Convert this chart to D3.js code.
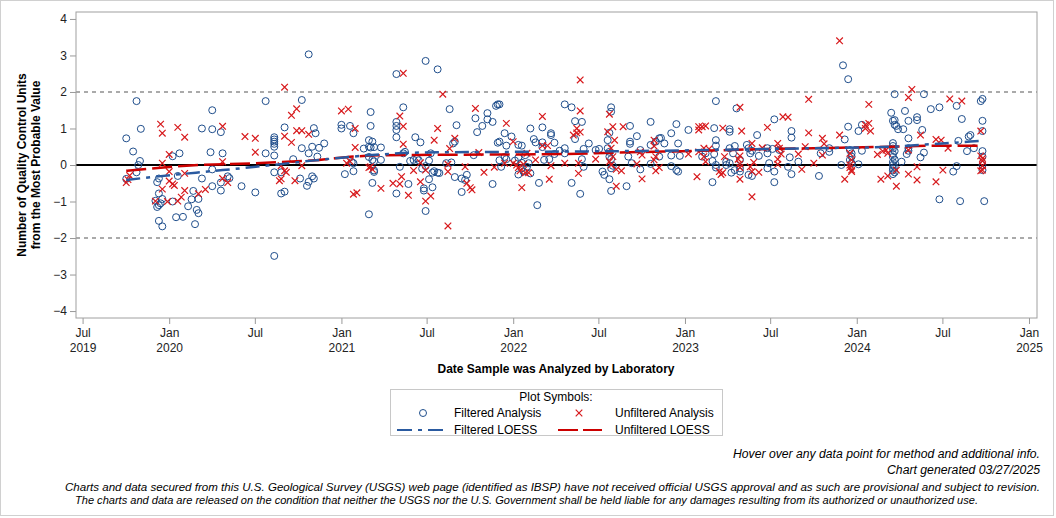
<!DOCTYPE html>
<html>
<head>
<meta charset="utf-8">
<script src="https://cdn.jsdelivr.net/npm/d3@7"></script>
<style>
  body { margin: 0; background: #fff; }
  svg { display: block; font-family: "Liberation Sans", Arial, sans-serif; }
</style>
</head>
<body>
<svg id="chart" width="1056" height="518"></svg>
<script>
// filtered analysis points: [decimal year, QC units from MPV]
const filteredPoints = [
  [2020.81,3.03],[2019.81,1.75],[2019.75,0.73],[2019.835,0.99],[2019.79,0.37],[2019.83,0.11],[2019.82,0.0],
  [2019.81,-0.2],[2019.75,-0.38],[2019.93,-0.47],[2019.94,-0.37],[2019.94,-0.78],[2019.96,-0.93],[2019.92,-0.98],
  [2019.94,-1.1],[2019.93,-1.15],[2019.95,-1.05],[2019.94,-1.53],[2019.96,-1.68],[2020.02,0.24],[2020.06,0.32],
  [2020.05,-0.3],[2020.02,-1.0],[2020.04,-1.43],[2020.08,-1.42],[2020.11,-1.13],[2020.14,-0.71],[2020.13,-0.94],
  [2020.17,-0.93],[2020.16,-1.23],[2020.17,-1.32],[2020.15,-1.62],[2020.19,1.0],[2020.25,1.5],[2020.25,0.98],
  [2020.30,0.9],[2020.24,0.35],[2020.31,0.32],[2020.25,-0.12],[2020.19,-0.37],[2020.25,-0.58],[2020.30,-0.7],
  [2020.30,-0.48],[2020.34,-0.31],[2020.35,-0.36],[2020.42,-0.58],[2020.50,-0.75],[2020.56,1.75],[2020.61,-2.49],
  [2020.61,0.76],[2020.61,0.7],[2020.61,0.64],[2020.61,0.58],[2020.61,0.5],[2020.56,0.32],[2020.61,0.26],
  [2020.61,-0.2],[2020.65,-0.2],[2020.65,-0.78],[2020.67,-0.73],[2020.67,1.03],[2020.72,0.16],[2020.77,0.46],
  [2020.77,1.78],[2020.76,-0.37],[2020.81,0.32],[2020.83,0.5],[2020.84,1.01],[2020.85,0.87],[2020.87,0.47],
  [2020.86,0.23],[2020.90,0.59],[2020.83,-0.31],[2020.84,-0.37],[2020.81,-0.46],[2020.80,-0.57],
  [2021.49,2.85],[2021.56,2.62],[2021.32,2.49],[2021.0,1.1],[2021.0,1.0],[2021.05,1.07],[2021.07,0.87],
  [2021.17,1.45],[2021.17,1.07],[2021.16,0.68],[2021.18,0.64],[2021.13,0.45],[2021.16,0.5],[2021.17,0.48],
  [2021.19,0.49],[2021.23,0.48],[2021.16,0.22],[2021.18,0.14],[2021.19,0.1],[2021.23,0.14],[2021.02,-0.25],
  [2021.07,-0.17],[2021.07,0.05],[2021.06,0.08],[2021.19,-0.19],[2021.19,-0.15],[2021.18,-0.49],[2021.16,-1.35],
  [2021.32,0.76],[2021.32,0.96],[2021.32,1.07],[2021.32,1.18],[2021.36,1.58],[2021.34,-0.05],[2021.36,0.32],
  [2021.37,0.36],[2021.32,-0.78],[2021.39,-0.52],[2021.43,0.76],[2021.46,0.62],[2021.40,0.11],[2021.42,0.14],
  [2021.44,0.18],[2021.45,0.13],[2021.47,-0.1],[2021.49,-0.03],[2021.51,0.12],[2021.52,0.32],[2021.51,-0.39],
  [2021.48,-0.64],[2021.48,-0.7],[2021.53,-0.61],[2021.49,-1.26],[2021.53,-0.21],[2021.54,-0.17],[2021.56,-0.21],
  [2021.57,-0.22],[2021.63,1.53],[2021.67,1.09],[2021.65,0.59],[2021.66,0.64],[2021.64,0.07],[2021.61,0.05],
  [2021.66,-0.33],[2021.70,-0.74],[2021.70,-0.37],[2021.73,-0.27],[2021.72,-0.41],[2021.77,0.27],[2021.78,1.28],
  [2021.79,0.9],[2021.82,1.07],[2021.85,1.42],[2021.85,1.25],[2021.88,1.18],[2021.90,1.62],[2021.91,1.66],
  [2021.92,1.66],[2021.88,-0.52],[2021.92,0.13],[2021.93,-0.05],[2021.95,0.22],[2021.96,0.16],[2021.91,0.61],
  [2021.92,0.64],[2021.95,0.87],[2021.96,0.53],[2021.99,0.78],[2022.01,0.12],[2022.03,0.2],[2022.05,0.06],
  [2022.03,-0.26],[2022.05,-0.09],[2022.06,-0.18],[2022.07,0.27],[2022.08,-0.05],[2022.09,0.05],[2022.03,0.55],
  [2022.05,0.53],[2022.10,1.0],[2022.10,-0.23],[2022.12,0.71],[2022.13,0.62],[2022.15,-0.49],[2022.14,-1.1],
  [2022.17,1.03],[2022.17,0.62],[2022.17,0.49],[2022.18,0.14],[2022.21,0.16],[2022.24,0.3],[2022.27,0.39],
  [2022.22,0.87],[2022.22,0.82],[2022.24,0.61],[2022.30,1.66],[2022.30,0.46],
  [2022.34,1.58],[2022.36,1.2],[2022.40,1.18],[2022.36,0.71],[2022.30,0.32],[2022.41,0.44],[2022.40,0.16],
  [2022.41,-0.05],[2022.44,0.59],[2022.48,0.41],[2022.50,0.44],[2022.34,-0.49],[2022.39,-0.79],[2022.57,1.58],
  [2022.57,1.46],[2022.56,0.88],[2022.55,0.68],[2022.56,0.36],[2022.56,0.23],[2022.57,0.16],[2022.55,0.46],
  [2022.52,-0.18],[2022.53,-0.27],[2022.56,-0.39],[2022.57,-0.09],[2022.58,-0.02],[2022.57,-0.71],[2022.66,-0.58],
  [2022.68,1.07],[2022.68,0.64],[2022.68,0.58],[2022.72,0.79],[2022.67,0.23],[2022.69,0.05],[2022.74,0.41],
  [2022.74,-0.12],[2022.80,1.18],[2022.80,0.55],[2022.80,0.03],[2022.83,0.64],[2022.85,0.73],[2022.86,0.74],
  [2022.88,0.59],[2022.85,0.23],[2022.92,0.87],[2022.95,1.12],[2022.96,0.59],[2022.92,0.26],[2022.97,0.25],
  [2022.92,-0.03],[2022.95,-0.14],[2022.96,-0.18],[2023.02,0.96],[2023.17,1.01],[2023.18,1.75],[2023.18,0.68],
  [2023.18,0.53],[2023.10,0.23],[2023.12,0.32],[2023.17,0.3],[2023.16,0.11],[2023.18,-0.07],[2023.18,0.0],
  [2023.16,-0.47],[2023.24,0.09],[2023.24,0.0],[2023.26,0.05],[2023.26,0.98],[2023.26,0.91],[2023.26,0.46],
  [2023.28,0.32],[2023.29,0.52],[2023.27,-0.21],[2023.29,-0.14],[2023.30,1.55],[2023.32,0.14],[2023.32,-0.09],
  [2023.32,-0.18],[2023.36,0.55],[2023.37,0.46],[2023.38,0.32],[2023.39,0.39],[2023.37,-0.27],[2023.39,-0.3],
  [2023.42,0.82],[2023.43,0.25],[2023.48,0.46],[2023.48,0.32],[2023.48,-0.09],[2023.49,0.05],[2023.52,1.25],
  [2023.51,0.44],[2023.52,-0.18],[2023.52,-0.47],[2023.55,0.41],[2023.62,0.93],[2023.62,0.75],[2023.61,0.21],
  [2023.60,-0.05],[2023.62,-0.25],[2023.66,0.09],
  [2023.92,2.73],[2023.95,2.35],[2023.78,-0.3],[2023.84,0.46],[2023.84,0.36],[2023.79,0.32],[2023.95,1.05],
  [2023.93,0.7],[2023.91,0.0],[2023.96,0.41],[2023.97,0.32],[2023.97,0.23],[2023.96,0.14],[2023.97,0.05],
  [2024.01,0.02],[2024.01,0.93],[2024.03,1.1],[2024.03,0.39],[2024.20,1.43],[2024.22,1.94],[2024.21,1.21],
  [2024.22,1.23],[2024.22,1.1],[2024.23,1.07],[2024.24,0.98],[2024.27,0.98],
  [2024.21,0.6],[2024.21,0.52],[2024.21,0.45],[2024.22,0.38],[2024.21,0.3],[2024.21,0.22],[2024.22,0.15],
  [2024.21,0.08],[2024.21,0.0],[2024.22,-0.05],[2024.21,-0.1],[2024.21,-0.15],[2024.22,-0.2],[2024.21,-0.25],
  [2024.28,1.48],[2024.26,0.09],[2024.30,0.73],[2024.29,0.3],[2024.30,0.39],[2024.30,0.46],[2024.30,1.21],
  [2024.35,1.23],[2024.35,1.31],[2024.38,0.96],[2024.39,1.94],[2024.39,0.34],[2024.37,0.21],[2024.43,1.53],
  [2024.48,1.58],[2024.48,-0.94],[2024.56,-0.18],[2024.58,-0.03],[2024.58,1.62],[2024.61,1.26],[2024.59,0.66],
  [2024.64,0.38],[2024.65,0.78],[2024.66,0.82],[2024.68,0.46],[2024.60,-0.99],[2024.73,1.81],[2024.72,1.75],
  [2024.73,1.21],[2024.73,0.93],[2024.73,0.38],[2024.73,0.0],[2024.73,-0.14],[2024.73,0.23],[2024.74,-0.99]
];

// unfiltered analysis points: [decimal year, QC units from MPV]
const unfilteredPoints = [
  [2019.75,-0.48],[2019.77,-0.29],[2019.76,-0.4],[2019.95,1.12],[2019.96,0.87],[2020.05,1.03],[2020.09,0.76],
  [2020.0,0.29],[2019.96,0.05],[2020.0,-0.18],[2020.0,-0.44],[2020.03,-0.56],[2020.02,-0.52],[2019.96,-0.66],
  [2019.92,-0.99],[2019.99,-1.0],[2020.09,-0.23],[2020.09,-0.7],[2020.07,-0.88],[2020.05,-0.99],[2020.17,-0.79],
  [2020.21,-0.67],[2020.31,1.06],[2020.31,0.09],[2020.31,-0.37],[2020.34,-0.48],[2020.44,0.78],[2020.50,0.73],
  [2020.50,0.35],[2020.67,2.13],[2020.71,1.36],[2020.74,1.54],[2020.67,0.79],[2020.71,0.62],[2020.74,0.94],
  [2020.77,0.94],[2020.81,0.84],[2020.65,-0.02],[2020.67,-0.16],[2020.68,-0.2],[2020.65,-0.38],[2020.64,-0.43],
  [2020.73,-0.43],[2020.77,-0.02],
  [2021.36,2.51],[2021.59,1.94],[2021.0,1.48],[2021.04,1.53],[2021.08,1.0],[2021.08,0.48],[2021.03,0.05],
  [2021.05,0.1],[2021.17,-0.05],[2021.16,-0.07],[2021.18,-0.12],[2021.07,-0.8],[2021.09,-0.76],[2021.23,-0.64],
  [2021.30,-0.5],[2021.34,1.34],[2021.36,1.06],[2021.36,0.57],[2021.35,-0.32],[2021.34,-0.52],[2021.39,-0.83],
  [2021.42,-0.15],[2021.46,-0.46],[2021.46,0.06],[2021.49,-0.14],[2021.49,-0.99],[2021.52,-0.85],[2021.54,0.68],
  [2021.56,1.0],[2021.63,0.45],[2021.66,0.73],[2021.62,0.02],[2021.62,-0.18],[2021.72,-0.05],[2021.62,-1.67],
  [2021.73,-0.5],[2021.75,-0.62],[2021.76,-0.68],[2021.78,1.55],[2021.80,0.34],[2021.83,-0.2],[2021.89,-0.06],
  [2021.96,1.14],[2021.95,0.05],[2022.00,0.64],[2022.00,0.05],[2022.02,0.0],[2022.03,-0.07],[2022.06,0.02],
  [2022.04,-0.16],[2022.05,-0.62],[2022.08,0.32],[2022.09,-0.21],[2022.07,-0.21],[2022.13,0.14],[2022.17,1.33],
  [2022.17,0.53],[2022.20,0.53],[2022.21,-0.39],[2022.22,-0.02],[2022.30,0.05],
  [2022.39,2.33],[2022.39,1.48],[2022.37,1.0],[2022.37,0.88],[2022.39,0.9],[2022.35,0.82],[2022.38,0.05],
  [2022.38,-0.23],[2022.48,0.16],[2022.56,1.39],[2022.55,0.91],[2022.58,1.05],[2022.64,1.05],[2022.59,0.68],
  [2022.57,0.46],[2022.58,0.23],[2022.56,0.09],[2022.57,0.0],[2022.60,-0.12],[2022.63,-0.16],[2022.60,-0.58],
  [2022.75,-0.38],[2022.72,0.03],[2022.75,0.27],[2022.74,0.36],[2022.82,0.68],[2022.82,0.52],[2022.83,-0.16],
  [2022.85,-0.07],[2022.82,0.14],[2022.83,0.23],[2023.02,0.3],[2023.07,-0.32],[2023.08,1.05],[2023.08,0.96],
  [2023.10,1.05],[2023.12,1.07],[2023.08,0.36],[2023.11,0.46],[2023.14,0.44],[2023.11,0.23],[2023.12,0.09],
  [2023.20,-0.18],[2023.21,-0.26],[2023.22,-0.21],[2023.23,0.23],[2023.22,1.01],[2023.32,1.58],[2023.33,0.93],
  [2023.32,0.25],[2023.31,0.16],[2023.32,0.03],[2023.32,-0.07],[2023.32,-0.39],[2023.39,0.59],[2023.38,-0.05],
  [2023.40,0.07],[2023.39,-0.18],[2023.43,-0.2],[2023.39,-0.87],[2023.45,0.47],[2023.48,1.03],[2023.54,0.59],
  [2023.55,0.46],[2023.56,0.3],[2023.54,0.16],[2023.54,0.02],[2023.57,1.32],[2023.60,1.31],[2023.66,0.3],
  [2023.68,-0.12],[2023.72,1.8],[2023.72,0.88],
  [2023.90,3.4],[2023.70,0.5],[2023.75,0.05],[2023.80,0.73],[2023.80,0.27],[2023.81,0.58],[2023.90,0.82],
  [2023.93,-0.39],[2023.96,0.32],[2023.97,0.14],[2023.96,-0.07],[2023.97,-0.14],[2023.97,-0.18],[2023.96,0.0],
  [2024.07,1.66],[2024.05,1.1],[2024.07,1.14],[2024.08,0.93],[2024.05,1.0],[2024.12,0.29],[2024.15,0.38],
  [2024.18,0.32],[2024.17,0.41],[2024.14,-0.39],[2024.18,-0.3],[2024.23,-0.58],[2024.23,-0.14],[2024.32,2.07],
  [2024.30,1.85],[2024.37,0.82],[2024.30,0.41],[2024.30,-0.25],[2024.35,-0.05],[2024.35,-0.41],[2024.46,-0.46],
  [2024.46,0.7],[2024.49,0.68],[2024.53,0.46],[2024.54,1.81],[2024.61,1.75],[2024.50,-0.14],[2024.72,0.93],
  [2024.72,0.25],[2024.73,0.18],[2024.73,0.11],[2024.73,-0.02],[2024.73,-0.14],[2024.72,-0.16]
];

// LOESS curves
const filteredLoess = [
  [2019.75,-0.41],[2019.92,-0.32],[2020.31,-0.14],[2020.6,0.0],[2020.83,0.12],[2021.0,0.2],[2021.2,0.28],
  [2021.45,0.34],[2022.0,0.36],[2022.35,0.37],[2023.0,0.4],[2023.5,0.44],[2023.75,0.46],[2024.2,0.5],
  [2024.4,0.56],[2024.72,0.66]
];
const unfilteredLoess = [
  [2019.75,-0.16],[2020.1,-0.02],[2020.5,0.05],[2020.87,0.14],[2021.07,0.23],[2021.26,0.27],[2021.65,0.28],
  [2022.04,0.29],[2022.3,0.3],[2022.6,0.34],[2023.1,0.39],[2023.5,0.44],[2023.75,0.46],[2024.2,0.5],
  [2024.5,0.53],[2024.72,0.53]
];

const yTicks = [-4, -3, -2, -1, 0, 1, 2, 3, 4];
const xTickDates = ['2019-07-01','2020-01-01','2020-07-01','2021-01-01','2021-07-01','2022-01-01',
  '2022-07-01','2023-01-01','2023-07-01','2024-01-01','2024-07-01','2025-01-01'];
const refLines = [-2, 2];

function toDate(y) {
  const yr = Math.floor(y);
  const a = new Date(yr, 0, 1), b = new Date(yr + 1, 0, 1);
  return new Date(+a + (y - yr) * (b - a));
}

const svg = d3.select('#chart');
const plot = { left: 76, right: 1037, top: 12, bottom: 318 };

const x = d3.scaleTime()
  .domain([new Date(2019, 5, 17), new Date(2025, 0, 18)])
  .range([plot.left, plot.right]);
const y = d3.scaleLinear().domain([-4.19, 4.19]).range([plot.bottom, plot.top]);

// outer border
svg.append('rect')
  .attr('x', 0.5).attr('y', 0.5).attr('width', 1053).attr('height', 515)
  .attr('fill', '#fff').attr('stroke', '#d0d0d0');

// reference lines
refLines.forEach((v) => {
  svg.append('line')
    .attr('x1', plot.left).attr('x2', plot.right)
    .attr('y1', y(v)).attr('y2', y(v))
    .attr('stroke', '#aaaaaa').attr('stroke-width', 2)
    .attr('stroke-dasharray', '4,4');
});
svg.append('line')
  .attr('x1', plot.left).attr('x2', plot.right)
  .attr('y1', y(0)).attr('y2', y(0))
  .attr('stroke', '#000').attr('stroke-width', 2);

// y axis
const yAxis = svg.append('g')
  .attr('transform', `translate(${plot.left},0)`)
  .call(d3.axisLeft(y).tickValues(yTicks).tickSize(6).tickPadding(3).tickFormat(d3.format('d')));
yAxis.select('.domain').remove();
yAxis.selectAll('line').attr('stroke', '#999');
yAxis.selectAll('text').style('font-size', '12px').attr('fill', '#222');

// x axis
const xAxis = svg.append('g')
  .attr('transform', `translate(0,${plot.bottom})`)
  .call(d3.axisBottom(x).tickValues(xTickDates.map((d) => new Date(d + 'T00:00:00'))).tickSize(6).tickFormat(''));
xAxis.select('.domain').remove();
xAxis.selectAll('line').attr('stroke', '#999');
xAxis.selectAll('.tick').each(function (d, i) {
  const t = d3.select(this);
  const isJan = d.getMonth() === 0;
  const txt = t.append('text')
    .attr('fill', '#222').attr('text-anchor', 'middle').style('font-size', '12px');
  txt.append('tspan').attr('x', 0).attr('y', 19).text(isJan ? 'Jan' : 'Jul');
  if (isJan || i === 0) txt.append('tspan').attr('x', 0).attr('y', 34).text(d.getFullYear());
});

// frame
svg.append('rect')
  .attr('x', plot.left).attr('y', plot.top)
  .attr('width', plot.right - plot.left).attr('height', plot.bottom - plot.top)
  .attr('fill', 'none').attr('stroke', '#a0a0a0');

const blue = '#1f4e8c';
const red = '#d7191c';

// filtered points
svg.append('g').selectAll('circle')
  .data(filteredPoints)
  .join('circle')
  .attr('cx', (d) => x(toDate(d[0])))
  .attr('cy', (d) => y(d[1]))
  .attr('r', 3.5)
  .attr('fill', 'none')
  .attr('stroke', blue)
  .attr('stroke-width', 1);

// unfiltered points
const s = 3.3;
svg.append('g').selectAll('path')
  .data(unfilteredPoints)
  .join('path')
  .attr('d', (d) => {
    const cx = x(toDate(d[0])), cy = y(d[1]);
    return `M${cx - s},${cy - s}L${cx + s},${cy + s}M${cx - s},${cy + s}L${cx + s},${cy - s}`;
  })
  .attr('stroke', red)
  .attr('stroke-width', 1.2)
  .attr('fill', 'none');

// LOESS lines
const line = d3.line()
  .x((d) => x(toDate(d[0])))
  .y((d) => y(d[1]))
  .curve(d3.curveMonotoneX);

svg.append('path')
  .datum(unfilteredLoess)
  .attr('d', line)
  .attr('fill', 'none').attr('stroke', '#cc0000').attr('stroke-width', 2.5)
  .attr('stroke-dasharray', '20,6');
svg.append('path')
  .datum(filteredLoess)
  .attr('d', line)
  .attr('fill', 'none').attr('stroke', '#2a5aa0').attr('stroke-width', 2.5)
  .attr('stroke-dasharray', '14,6,4,6');

// axis titles
svg.append('text')
  .attr('transform', 'translate(26,165) rotate(-90)')
  .attr('text-anchor', 'middle')
  .style('font-size', '12px').style('font-weight', 'bold')
  .text('Number of Quality Control Units');
svg.append('text')
  .attr('transform', 'translate(40,165) rotate(-90)')
  .attr('text-anchor', 'middle')
  .style('font-size', '12px').style('font-weight', 'bold')
  .text('from the Most Probable Value');

svg.append('text')
  .attr('x', 556).attr('y', 373)
  .attr('text-anchor', 'middle')
  .style('font-size', '12px').style('font-weight', 'bold')
  .text('Date Sample was Analyzed by Laboratory');

// legend
const lg = svg.append('g');
lg.append('rect')
  .attr('x', 390.5).attr('y', 389.5).attr('width', 332).attr('height', 46)
  .attr('fill', 'none').attr('stroke', '#c8c8c8');
lg.append('text').attr('x', 556).attr('y', 401).attr('text-anchor', 'middle')
  .style('font-size', '12px').text('Plot Symbols:');
lg.append('circle').attr('cx', 423).attr('cy', 413).attr('r', 3.5)
  .attr('fill', 'none').attr('stroke', blue);
lg.append('text').attr('x', 454).attr('y', 417).style('font-size', '12px').text('Filtered Analysis');
lg.append('path')
  .attr('d', `M${579 - s},${413 - s}L${579 + s},${413 + s}M${579 - s},${413 + s}L${579 + s},${413 - s}`)
  .attr('stroke', red).attr('stroke-width', 1.2);
lg.append('text').attr('x', 615).attr('y', 417).style('font-size', '12px').text('Unfiltered Analysis');
lg.append('line').attr('x1', 397).attr('x2', 444).attr('y1', 430).attr('y2', 430)
  .attr('stroke', '#2a5aa0').attr('stroke-width', 2).attr('stroke-dasharray', '15,6,4,6');
lg.append('text').attr('x', 454).attr('y', 434).style('font-size', '12px').text('Filtered LOESS');
lg.append('line').attr('x1', 558).attr('x2', 602).attr('y1', 430).attr('y2', 430)
  .attr('stroke', '#cc0000').attr('stroke-width', 2).attr('stroke-dasharray', '20,5');
lg.append('text').attr('x', 615).attr('y', 434).style('font-size', '12px').text('Unfiltered LOESS');

// footer notes
const note = (txt, xPos, yPos, len, anchor) => svg.append('text')
  .attr('x', xPos).attr('y', yPos)
  .attr('text-anchor', anchor || 'start')
  .attr('textLength', len).attr('lengthAdjust', 'spacingAndGlyphs')
  .style('font-size', '12px').style('font-style', 'italic')
  .text(txt);
note('Hover over any data point for method and additional info.', 1040, 458, 307, 'end');
note('Chart generated 03/27/2025', 1040, 474, 153, 'end');
svg.append('text')
  .attr('x', 65).attr('y', 491)
  .attr('textLength', 975).attr('lengthAdjust', 'spacingAndGlyphs')
  .style('font-size', '11px').style('font-style', 'italic')
  .text('Charts and data secured from this U.S. Geological Survey (USGS) web page (identified as IBSP) have not received official USGS approval and as such are provisional and subject to revision.');
svg.append('text')
  .attr('x', 75).attr('y', 504)
  .attr('textLength', 903).attr('lengthAdjust', 'spacingAndGlyphs')
  .style('font-size', '11px').style('font-style', 'italic')
  .text('The charts and data are released on the condition that neither the USGS nor the U.S. Government shall be held liable for any damages resulting from its authorized or unauthorized use.');
</script>
</body>
</html>
